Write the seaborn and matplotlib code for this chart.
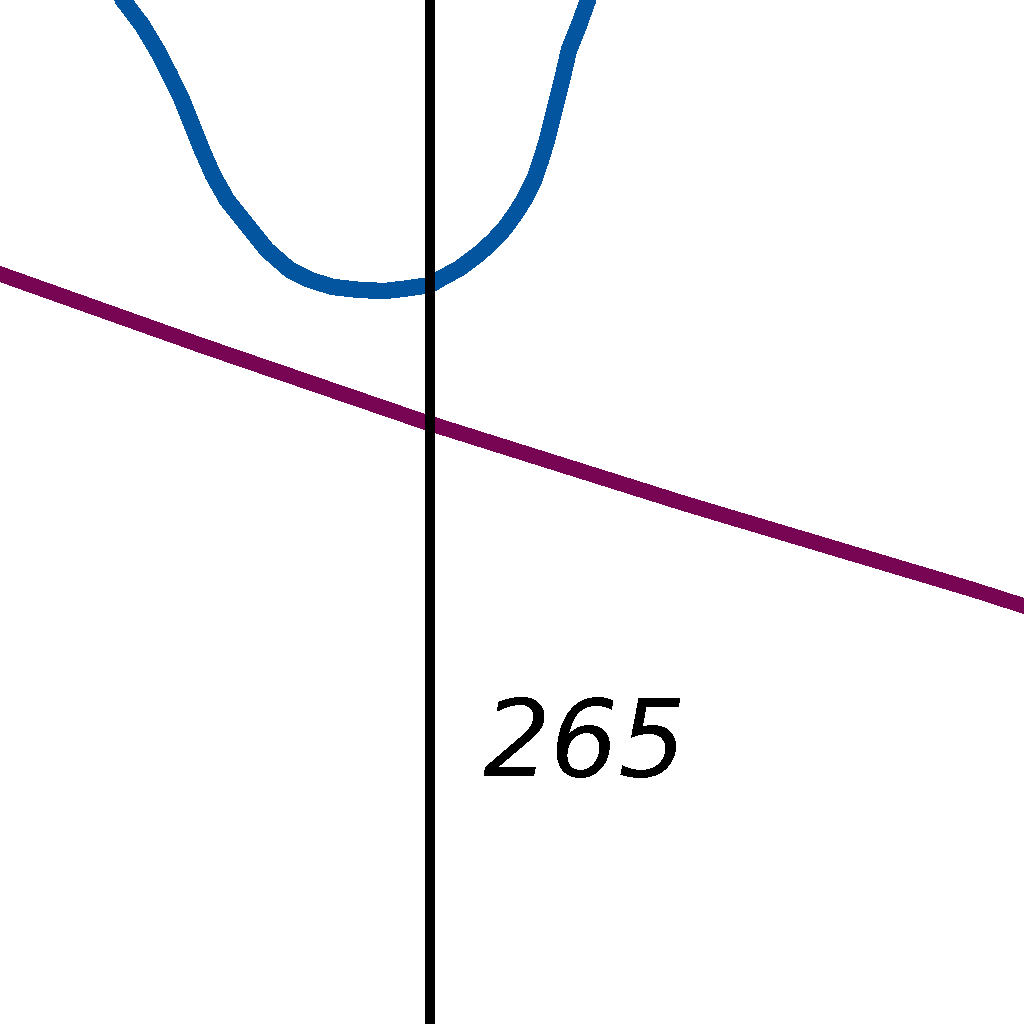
import numpy as np
import pandas as pd
import seaborn as sns
import matplotlib

matplotlib.use("Agg")
import matplotlib.pyplot as plt

# values (x in the chart's units, y upward)
curve_x = [233.0, 234.3, 236.2, 237.7, 239.0, 240.2, 241.2, 242.2, 243.3, 244.7,
           246.7, 248.7, 251.0, 253.0, 255.3, 258.0, 260.5, 263.0, 265.0, 266.0,
           268.0, 270.0, 271.4, 272.5, 273.5, 274.4, 275.4, 276.1, 276.7, 277.2,
           277.7, 278.2, 278.9, 279.9, 280.8, 281.5]
curve_y = [104.4, 102.4, 99.9, 97.4, 94.9, 92.4, 89.9, 87.4, 84.9, 82.4,
           79.9, 77.4, 75.4, 74.4, 73.7, 73.4, 73.3, 73.6, 73.9, 74.5,
           75.6, 77.1, 78.4, 79.6, 81.0, 82.4, 84.4, 86.4, 88.4, 90.4,
           92.4, 94.4, 97.4, 99.9, 102.4, 104.4]

trend_x = [221.0, 222.0, 242.3, 264.2, 290.6, 319.1, 324.4, 325.4]
trend_y = [75.35, 75.0, 67.8, 60.3, 52.0, 43.5, 41.8, 41.5]

marker_x = 265
marker_label = "265"

curve = pd.DataFrame({"x": curve_x, "y": curve_y})
trend = pd.DataFrame({"x": trend_x, "y": trend_y})

sns.set_style("white")
plt.rcParams["font.family"] = ["DejaVu Sans"]
plt.rcParams["text.antialiased"] = False

fig = plt.figure(figsize=(10.24, 10.24), dpi=100)
ax = fig.add_axes([0, 0, 1, 1])

sns.lineplot(data=trend, x="x", y="y", ax=ax, color="#780454", linewidth=10.2,
             sort=False, antialiased=False)
sns.lineplot(data=curve, x="x", y="y", ax=ax, color="#02559e", linewidth=11,
             sort=False, antialiased=False)
ax.axvline(marker_x, color="black", linewidth=7.2, antialiased=False)
ax.text(marker_x + 5.3, 24.8, marker_label, fontsize=77, style="italic",
        ha="left", va="baseline", color="black")

ax.set_xlim(222, 324.4)
ax.set_ylim(0, 102.4)
ax.set_axis_off()

fig.savefig("out.png", dpi=100)
